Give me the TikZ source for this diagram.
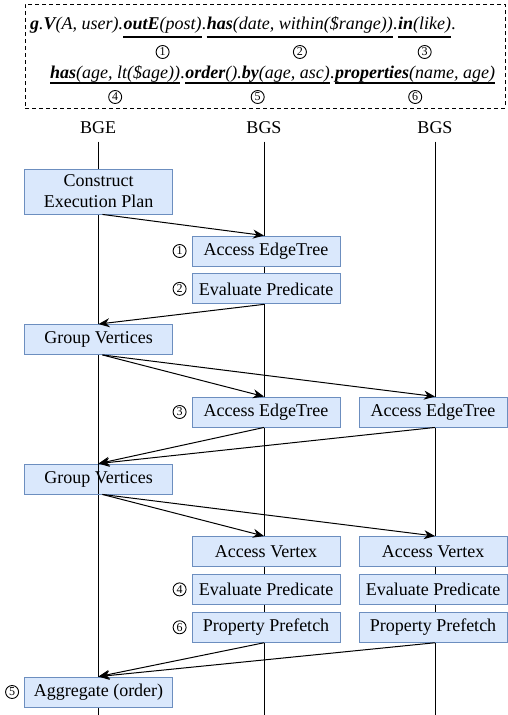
\documentclass[tikz,border=0pt]{standalone}
\usepackage{fontspec}
\setmainfont{Liberation Serif}
\usepackage{xcolor}
\usetikzlibrary{arrows.meta,positioning,calc}

\definecolor{taskfill}{HTML}{DAE8FC}
\definecolor{taskline}{HTML}{6C8EBF}

\begin{document}
\begin{tikzpicture}[
    x=1pt, y=-1pt,
    font=\fontsize{18}{21}\selectfont,
    task/.style={rectangle, draw=taskline, fill=taskfill, line width=0.9pt, minimum width=148pt, minimum height=30pt, align=center, inner sep=2pt},
    msg/.style={-{Stealth[length=11pt,width=9pt,inset=3.5pt]}, line width=1pt},
    life/.style={line width=1pt},
    num/.style={circle, draw, line width=0.9pt, inner sep=0pt, minimum size=13pt, font=\fontsize{12}{12}\selectfont},
    frag/.style={anchor=base west, inner sep=0pt, font=\fontsize{18}{21}\selectfont\itshape},
    uline/.style={line width=1.1pt}
]
    \useasboundingbox (0,0) rectangle (508,715);

    % query
    \node[draw, dashed, dash pattern=on 4pt off 3pt, line width=0.9pt, minimum width=480pt, minimum height=104pt] (query) at (265,56) {};
    \node[frag] (q0) at (30,29) {\textbf{g}.\textbf{V}(A, user).};
    \node[frag] (q1) at (q0.base east) {\textbf{outE}(post)};
    \node[frag] (q1d) at (q1.base east) {.};
    \node[frag] (q2) at (q1d.base east) {\textbf{has}(date, within(\$range))};
    \node[frag] (q2d) at (q2.base east) {.};
    \node[frag] (q3) at (q2d.base east) {\textbf{in}(like)};
    \node[frag] (q3d) at (q3.base east) {.};
    \node[frag] (q4) at (50,78) {\textbf{has}(age, lt(\$age))};
    \node[frag] (q4d) at (q4.base east) {.};
    \node[frag] (q5) at (q4d.base east) {\textbf{order}().\textbf{by}(age, asc)};
    \node[frag] (q5d) at (q5.base east) {.};
    \node[frag] (q6) at (q5d.base east) {\textbf{properties}(name, age)};

    \foreach \q/\n in {q1/1,q2/2,q3/3} {
        \draw[uline] ([yshift=-8pt]\q.base west) -- ([yshift=-8pt]\q.base east);
        \node[num] (m\n) at ([yshift=-23pt]\q.base) {\n};
    }
    \foreach \q/\n in {q4/4,q5/5,q6/6} {
        \draw[uline] ([yshift=-5pt]\q.base west) -- ([yshift=-5pt]\q.base east);
        \node[num] (m\n) at ([yshift=-19pt]\q.base) {\n};
    }

    % lifelines
    \node (bge) at (98,128) {BGE};
    \node (bgs1) at (264,128) {BGS};
    \node (bgs2) at (435,128) {BGS};
    \coordinate (bgeEnd) at (98,715);
    \coordinate (bgs1End) at (264,715);
    \coordinate (bgs2End) at (435,715);
    \draw[life] ([yshift=-4pt]bge.south) -- (bgeEnd);
    \draw[life] ([yshift=-4pt]bgs1.south) -- (bgs1End);
    \draw[life] ([yshift=-4pt]bgs2.south) -- (bgs2End);

    % steps
    \node[task, minimum height=45pt] (plan) at (98.5,191.5) {Construct\\Execution Plan};
    \node[task] (acc1) at (266,251) {Access EdgeTree};
    \node[task, below=7pt of acc1] (eval1) {Evaluate Predicate};
    \node[task] (group1) at (98.5,339.5) {Group Vertices};
    \node[task] (acc2) at (266,412) {Access EdgeTree};
    \node[task] (acc3) at (433,412) {Access EdgeTree};
    \node[task] (group2) at (98.5,479) {Group Vertices};
    \node[task] (vtx1) at (266,551.5) {Access Vertex};
    \node[task, below=7pt of vtx1] (eval2) {Evaluate Predicate};
    \node[task, below=7pt of eval2] (fetch1) {Property Prefetch};
    \node[task] (vtx2) at (433,551.5) {Access Vertex};
    \node[task, below=7pt of vtx2] (eval3) {Evaluate Predicate};
    \node[task, below=7pt of eval3] (fetch2) {Property Prefetch};
    \node[task] (agg) at (98.5,692) {Aggregate (order)};
    \draw[life] (group2.north -| bge) -- (group2.south -| bge);

    \node[num, left=5pt of acc1] (s1) {1};
    \node[num, left=5pt of eval1] (s2) {2};
    \node[num, left=5pt of acc2] (s3) {3};
    \node[num, left=5pt of eval2] (s4) {4};
    \node[num, left=5pt of fetch1] (s6) {6};
    \node[num, left=5pt of agg] (s5) {5};

    % messages
    \draw[msg] ([xshift=4pt]plan.south) -- (acc1.north -| bgs1);
    \draw[msg] (eval1.south -| bgs1) -- (group1.north);
    \draw[msg] ([xshift=4pt]group1.south) -- (acc2.north -| bgs1);
    \draw[msg] ([xshift=4pt]group1.south) -- (acc3.north -| bgs2);
    \draw[msg] (acc2.south -| bgs1) -- (group2.north);
    \draw[msg] (acc3.south -| bgs2) -- (group2.north);
    \draw[msg] ([xshift=4pt]group2.south) -- (vtx1.north -| bgs1);
    \draw[msg] ([xshift=4pt]group2.south) -- (vtx2.north -| bgs2);
    \draw[msg] (fetch1.south -| bgs1) -- (agg.north);
    \draw[msg] (fetch2.south -| bgs2) -- (agg.north);
\end{tikzpicture}
\end{document}
